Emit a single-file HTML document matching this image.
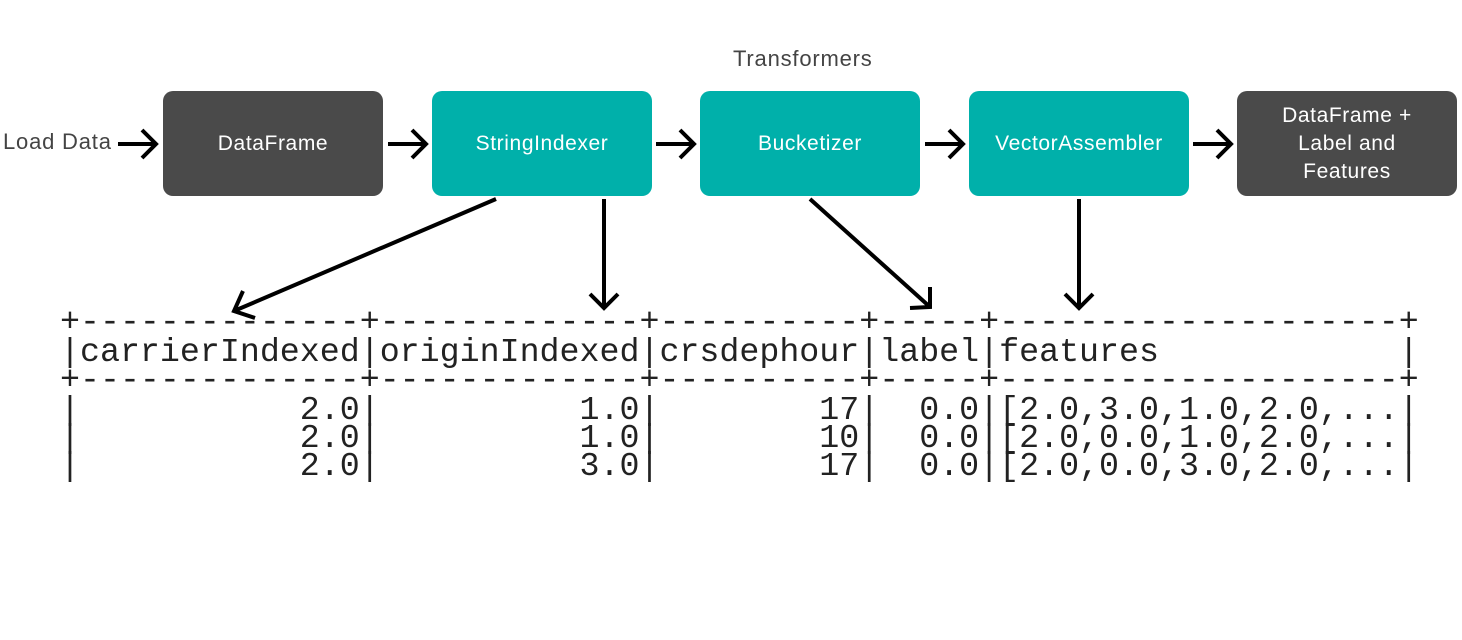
<!DOCTYPE html>
<html><head><meta charset="utf-8"><style>
body{margin:0;width:1462px;height:640px;background:#fff;position:relative;overflow:hidden;font-family:"Liberation Sans",sans-serif}
.b{position:absolute;top:91px;width:220px;height:105px;border-radius:10px;color:#fff;font-size:21px;letter-spacing:0.6px;display:flex;align-items:center;justify-content:center;text-align:center;line-height:28px}
.g{background:#4a4a4a}.t{background:#00b0aa}
.m{position:absolute;left:60px;font-family:"Liberation Mono",monospace;font-size:33.3px;white-space:pre;line-height:30px;color:#222}
.l{position:absolute;font-size:22px;color:#444;letter-spacing:0.8px}
</style></head><body>
<div class="l" style="left:733px;top:46px">Transformers</div>
<div class="l" style="left:3px;top:129px">Load Data</div>
<div class="b g" style="left:163px">DataFrame</div>
<div class="b t" style="left:432px">StringIndexer</div>
<div class="b t" style="left:700px">Bucketizer</div>
<div class="b t" style="left:969px">VectorAssembler</div>
<div class="b g" style="left:1237px">DataFrame +<br>Label and<br>Features</div>
<svg style="position:absolute;left:0;top:0" width="1462" height="640" fill="none" stroke="#000" stroke-width="4">
<g>
<path d="M118 144H156M142 130L156 144L142 158"/>
<path d="M388 144H426M412 130L426 144L412 158"/>
<path d="M656 144H694M680 130L694 144L680 158"/>
<path d="M925 144H963M949 130L963 144L949 158"/>
<path d="M1193 144H1231M1217 130L1231 144L1217 158"/>
<path d="M496 199L234 311M243 291L234 311L255 318"/>
<path d="M604 199V308M590 294L604 308L618 294"/>
<path d="M810 199L930 307M930 287L930 307L910 308"/>
<path d="M1079 199V308M1065 294L1079 308L1093 294"/>
</g></svg>
<div class="m" style="top:307px">+--------------+-------------+----------+-----+--------------------+</div>
<div class="m" style="top:337px">|carrierIndexed|originIndexed|crsdephour|label|features            |</div>
<div class="m" style="top:365px">+--------------+-------------+----------+-----+--------------------+</div>
<div class="m" style="top:395px">|           2.0|          1.0|        17|  0.0|[2.0,3.0,1.0,2.0,...|</div>
<div class="m" style="top:423px">|           2.0|          1.0|        10|  0.0|[2.0,0.0,1.0,2.0,...|</div>
<div class="m" style="top:451px">|           2.0|          3.0|        17|  0.0|[2.0,0.0,3.0,2.0,...|</div>
</body></html>
